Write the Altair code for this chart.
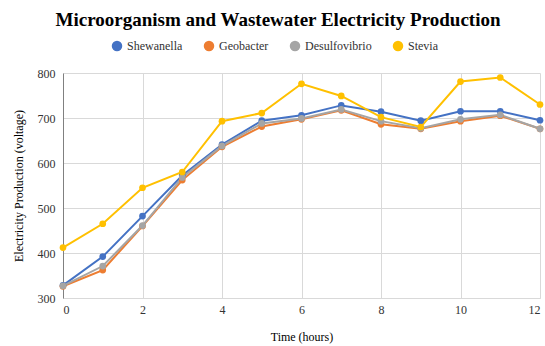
import altair as alt
import pandas as pd

hours = list(range(13))
shewanella = [328, 392, 482, 572, 641, 694, 706, 728, 714, 694, 715, 715, 695]
geobacter = [326, 362, 460, 562, 636, 681, 697, 717, 686, 676, 693, 705, 676]
desulfovibrio = [327, 371, 461, 568, 638, 688, 699, 719, 693, 677, 697, 707, 676]
stevia = [412, 465, 545, 580, 693, 711, 776, 749, 702, 680, 781, 790, 730]

series = ["Shewanella", "Geobacter", "Desulfovibrio", "Stevia"]
colors = ["#4472C4", "#ED7D31", "#A5A5A5", "#FFC000"]

rows = []
for i, (name, vals) in enumerate(zip(series, [shewanella, geobacter, desulfovibrio, stevia])):
    for h, v in zip(hours, vals):
        rows.append({"hour": h, "value": v, "series": name, "ord": i})
df = pd.DataFrame(rows)

font = "Liberation Serif"

base = alt.Chart(df).encode(
    x=alt.X("hour:Q", scale=alt.Scale(domain=[0, 12], nice=False),
            axis=alt.Axis(values=[0, 2, 4, 6, 8, 10, 12], title="Time (hours)",
                          format="d", grid=True, ticks=False, labelPadding=6,
                          titlePadding=16, domainColor="#d9d9d9")),
    y=alt.Y("value:Q", scale=alt.Scale(domain=[300, 800], nice=False, zero=False),
            axis=alt.Axis(values=[300, 400, 500, 600, 700, 800],
                          title="Electricity Production (voltage)", grid=True,
                          ticks=False, labelPadding=8, titlePadding=12,
                          domainColor="#808080")),
    color=alt.Color("series:N", scale=alt.Scale(domain=series, range=colors),
                    legend=alt.Legend(title=None, orient="none", direction="horizontal",
                                      legendX=48, legendY=-33, symbolType="circle",
                                      symbolSize=110, symbolStrokeWidth=0,
                                      symbolOpacity=1, labelFontSize=12,
                                      labelFont=font, columnPadding=20,
                                      labelColor="#333333")),
    order=alt.Order("ord:Q"),
    detail="series:N",
)

lines = base.mark_line(strokeWidth=2)
points = base.mark_circle(size=45, opacity=1)

chart = (lines + points).properties(
    width=477, height=225,
    title=alt.Title("Microorganism and Wastewater Electricity Production",
                    font=font, fontSize=19, fontWeight="bold", color="#000000",
                    anchor="middle", frame="bounds", offset=10),
    autosize=alt.AutoSizeParams(type="none"),
    padding={"left": 63, "top": 73, "right": 5, "bottom": 48},
    background="white",
).configure_view(stroke=None).configure_axis(
    labelFont=font, titleFont=font, labelFontSize=12, titleFontSize=12,
    titleFontWeight="normal", labelColor="#333333", titleColor="#000000",
    gridColor="#d9d9d9",
)

chart.save("out.html", embed_options={"renderer": "svg", "actions": False})
